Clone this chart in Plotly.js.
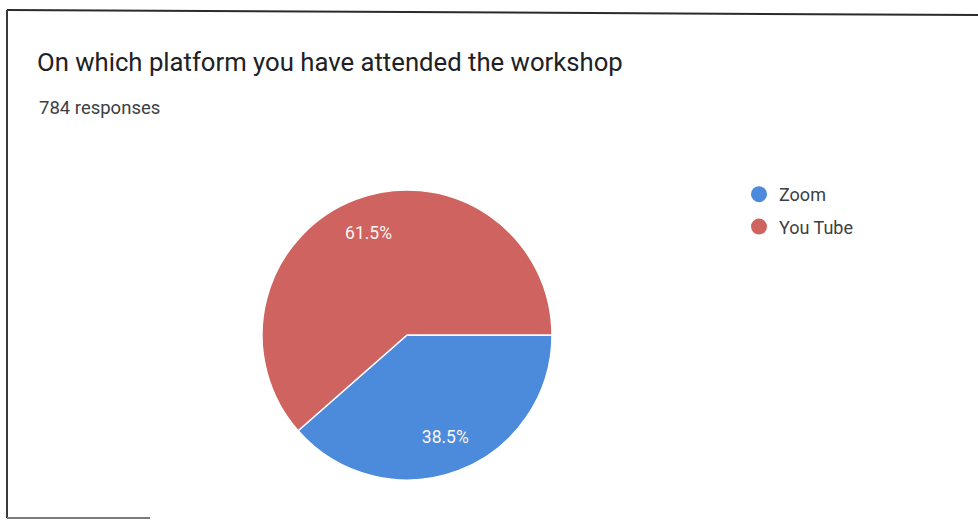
<!DOCTYPE html>
<html>
<head>
<meta charset="utf-8">
<script src="https://cdn.plot.ly/plotly-3.0.1.min.js"></script>
<style>
html, body { margin: 0; padding: 0; background: #ffffff; }
#chart { width: 978px; height: 520px; }
</style>
</head>
<body>
<div id="chart"></div>
<script>
// ---- data ----
const titleText = "On which platform you have attended the workshop";
const subtitleText = "784 responses";
const categories = ["Zoom", "You Tube"];
const counts = [302, 482];
const colors = ["#4c8adc", "#cf635f"];

const pieDomain = { x: [262 / 978, 552 / 978], y: [40 / 520, 330 / 520] };

// ---- traces ----
// filled pie, no text
const pieTrace = {
  type: "pie",
  labels: categories,
  values: counts,
  sort: false,
  direction: "clockwise",
  rotation: 90,
  marker: { colors: colors, line: { color: "#ffffff", width: 1.5 } },
  textinfo: "none",
  showlegend: false,
  hoverinfo: "none",
  domain: pieDomain
};

// transparent ring carrying the percentage labels (places them at ~3/4 radius)
const labelTrace = {
  type: "pie",
  labels: categories,
  values: counts,
  sort: false,
  direction: "clockwise",
  rotation: 90,
  hole: 0.5,
  marker: { colors: categories.map(() => "rgba(0,0,0,0)"), line: { width: 0 } },
  texttemplate: "%{percent:.1%}",
  textposition: "inside",
  insidetextorientation: "horizontal",
  textfont: { family: "Roboto, Arial, sans-serif", size: 17.5, color: "#fdf4f4" },
  showlegend: false,
  hoverinfo: "none",
  domain: pieDomain
};

// legend entries drawn as circle markers
const legendTraces = categories.map((name, i) => ({
  type: "scatter",
  mode: "markers",
  x: [null],
  y: [null],
  name: name,
  legendgroup: "g" + i,
  marker: { color: colors[i], size: 16, symbol: "circle" },
  hoverinfo: "none",
  showlegend: true
}));

const layout = {
  width: 978,
  height: 520,
  margin: { l: 0, r: 0, t: 0, b: 0 },
  paper_bgcolor: "#ffffff",
  plot_bgcolor: "#ffffff",
  font: { family: "Roboto, Arial, sans-serif", color: "#202124" },
  title: {
    text: titleText,
    x: 37 / 978,
    xanchor: "left",
    xref: "paper",
    y: 1 - 62 / 520,
    yref: "container",
    yanchor: "middle",
    font: { family: "Roboto, Arial, sans-serif", size: 25.7, color: "#202124" }
  },
  annotations: [{
    text: subtitleText,
    xref: "paper", yref: "paper",
    x: 37 / 978, y: 1 - 108 / 520,
    xanchor: "left", yanchor: "middle",
    showarrow: false,
    font: { family: "Roboto, Arial, sans-serif", size: 18.5, color: "#3c4043" }
  }],
  xaxis: { visible: false, domain: [0.9, 1] },
  yaxis: { visible: false, domain: [0.9, 1] },
  showlegend: true,
  legend: {
    x: 739 / 978,
    xanchor: "left",
    y: 1 - 176 / 520,
    yanchor: "top",
    traceorder: "grouped",
    tracegroupgap: 6,
    font: { family: "Roboto, Arial, sans-serif", size: 18, color: "#3c4043" },
    bgcolor: "rgba(0,0,0,0)"
  },
  shapes: [
    { type: "line", xref: "paper", yref: "paper", x0: 7 / 978, y0: 1 - 10 / 520, x1: 1, y1: 1 - 15 / 520,
      line: { color: "#2b2b2b", width: 2 } },
    { type: "line", xref: "paper", yref: "paper", x0: 7 / 978, y0: 1 - 10 / 520, x1: 7 / 978, y1: 1 - 518 / 520,
      line: { color: "#3a3a3a", width: 2 } },
    { type: "line", xref: "paper", yref: "paper", x0: 7 / 978, y0: 1 - 518 / 520, x1: 150 / 978, y1: 1 - 518 / 520,
      line: { color: "#7a7a7a", width: 2 } }
  ],
  hovermode: false
};

Plotly.newPlot("chart", [pieTrace, labelTrace].concat(legendTraces), layout, { displayModeBar: false, staticPlot: true });
</script>
</body>
</html>
